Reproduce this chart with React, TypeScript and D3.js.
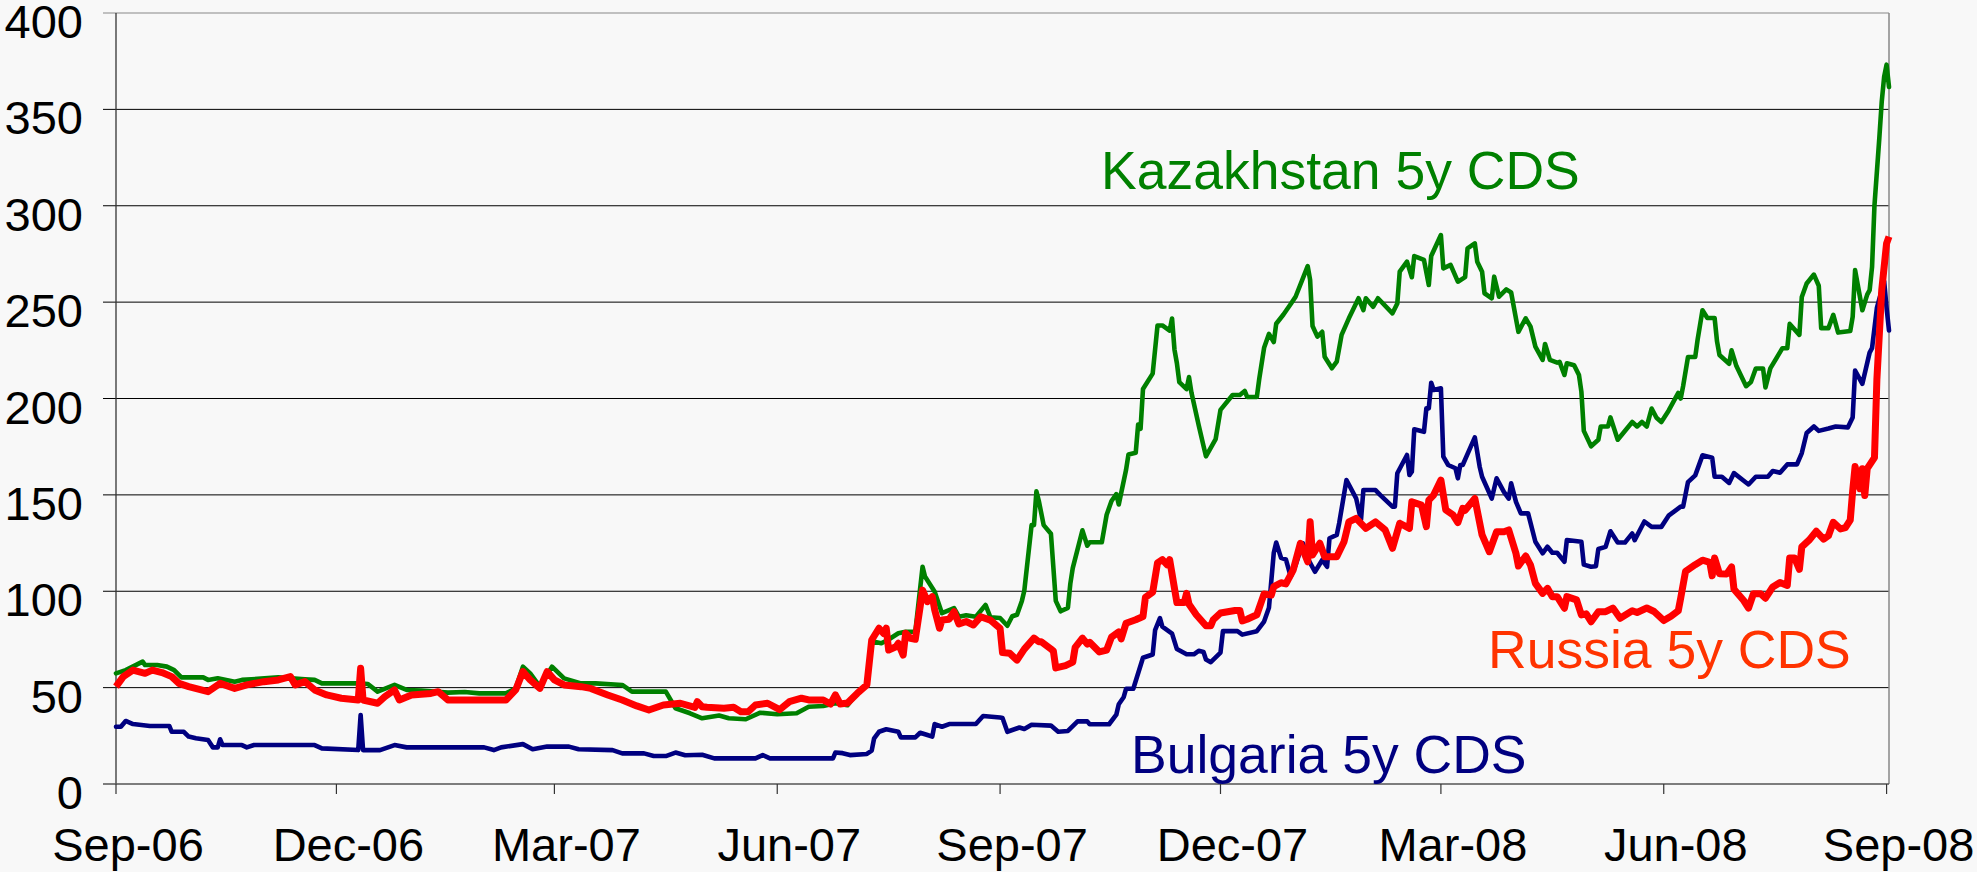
import React from "react";
import * as d3 from "d3";

type Pt = [string, number];

const kazakhstanCDS: Pt[] = [
  ["2006-09-01",57.4],["2006-09-05",59.1],["2006-09-12",63.5],["2006-09-13",61.7],["2006-09-18",61.7],
  ["2006-09-22",60.9],["2006-09-25",59.1],["2006-09-28",55.3],["2006-10-07",55.3],["2006-10-09",54.0],
  ["2006-10-13",54.9],["2006-10-20",53.1],["2006-10-23",54.0],["2006-11-07",55.3],["2006-11-18",54.3],
  ["2006-11-22",54.0],["2006-11-25",52.2],["2006-12-10",52.2],["2006-12-14",51.9],["2006-12-18",47.9],
  ["2006-12-25",51.4],["2006-12-30",48.8],["2007-01-05",48.5],["2007-01-16",47.4],["2007-01-23",47.7],
  ["2007-01-29",47.0],["2007-02-09",47.0],["2007-02-13",49.6],["2007-02-16",60.9],["2007-02-19",57.4],
  ["2007-02-23",50.5],["2007-02-28",60.9],["2007-03-05",54.8],["2007-03-12",52.2],["2007-03-18",52.2],
  ["2007-03-29",51.4],["2007-04-02",47.9],["2007-04-16",47.9],["2007-04-20",39.3],["2007-04-26",36.7],
  ["2007-05-01",34.1],["2007-05-08",35.5],["2007-05-12",34.1],["2007-05-19",33.6],["2007-05-25",37.0],
  ["2007-06-01",36.2],["2007-06-09",36.7],["2007-06-14",40.1],["2007-06-20",40.5],["2007-06-25",41.9],
  ["2007-06-30",40.9],["2007-07-04",47.0],["2007-07-08",51.4],["2007-07-10",74.0],["2007-07-14",73.0],
  ["2007-07-17",75.0],["2007-07-21",78.2],["2007-07-24",79.0],["2007-07-28",79.0],["2007-07-31",112.7],
  ["2007-08-01",107.6],["2007-08-05",99.8],["2007-08-08",88.6],["2007-08-13",91.2],["2007-08-15",86.8],
  ["2007-08-18",87.5],["2007-08-22",86.8],["2007-08-26",92.9],["2007-08-28",86.5],["2007-09-01",86.1],
  ["2007-09-04",82.1],["2007-09-06",87.0],["2007-09-08",87.8],["2007-09-10",95.0],["2007-09-11",100.3],
  ["2007-09-14",134.3],["2007-09-15",134.3],["2007-09-16",151.8],["2007-09-17",146.8],["2007-09-19",134.3],
  ["2007-09-22",129.8],["2007-09-24",95.0],["2007-09-26",89.6],["2007-09-29",91.4],["2007-09-30",103.9],
  ["2007-10-01",112.0],["2007-10-05",131.6],["2007-10-07",123.6],["2007-10-08",125.4],["2007-10-13",125.4],
  ["2007-10-15",139.7],["2007-10-17",146.8],["2007-10-19",150.4],["2007-10-20",145.0],["2007-10-23",162.9],
  ["2007-10-24",170.9],["2007-10-27",171.8],["2007-10-28",186.5],["2007-10-29",184.3],["2007-10-30",204.9],
  ["2007-11-03",212.9],["2007-11-05",237.9],["2007-11-07",237.9],["2007-11-10",235.2],["2007-11-11",241.5],
  ["2007-11-12",225.4],["2007-11-13",218.3],["2007-11-14",208.5],["2007-11-17",204.9],["2007-11-18",211.1],
  ["2007-11-19",203.1],["2007-11-22",186.1],["2007-11-24",175.4],["2007-11-25",170.0],["2007-11-29",178.9],
  ["2007-12-01",194.1],["2007-12-06",201.8],["2007-12-09",201.8],["2007-12-11",203.9],["2007-12-12",200.8],
  ["2007-12-16",200.8],["2007-12-17",210.2],["2007-12-19",226.3],["2007-12-21",233.5],["2007-12-23",229.3],
  ["2007-12-24",238.8],["2007-12-27",243.6],["2007-12-30",249.0],["2008-01-01",252.8],["2008-01-06",268.7],
  ["2008-01-07",261.5],["2008-01-08",237.6],["2008-01-10",232.1],["2008-01-12",234.6],["2008-01-13",221.7],
  ["2008-01-16",215.7],["2008-01-18",219.1],["2008-01-20",233.0],["2008-01-23",241.6],["2008-01-27",252.0],
  ["2008-01-29",245.9],["2008-01-30",252.0],["2008-02-02",247.6],["2008-02-04",252.0],["2008-02-10",244.2],
  ["2008-02-12",249.3],["2008-02-13",265.8],["2008-02-16",271.0],["2008-02-18",262.9],["2008-02-19",273.9],
  ["2008-02-23",271.9],["2008-02-25",258.9],["2008-02-26",273.9],["2008-03-01",284.8],["2008-03-02",267.5],
  ["2008-03-05",269.3],["2008-03-08",260.6],["2008-03-11",263.0],["2008-03-12",277.9],["2008-03-15",280.5],
  ["2008-03-16",271.0],["2008-03-18",265.8],["2008-03-19",254.6],["2008-03-22",252.0],["2008-03-23",263.2],
  ["2008-03-25",252.8],["2008-03-28",256.6],["2008-03-30",255.0],["2008-04-02",234.6],["2008-04-05",241.6],
  ["2008-04-07",237.3],["2008-04-09",226.9],["2008-04-12",220.0],["2008-04-13",228.3],["2008-04-15",220.0],
  ["2008-04-18",218.6],["2008-04-19",219.0],["2008-04-21",212.2],["2008-04-22",218.3],["2008-04-25",217.3],
  ["2008-04-27",212.2],["2008-04-28",203.5],["2008-04-29",183.2],["2008-05-02",175.2],["2008-05-05",178.6],
  ["2008-05-06",185.5],["2008-05-09",185.5],["2008-05-10",190.2],["2008-05-13",178.6],["2008-05-19",187.8],
  ["2008-05-21",185.5],["2008-05-23",187.8],["2008-05-25",185.5],["2008-05-27",194.8],["2008-05-29",190.0],
  ["2008-05-31",187.8],["2008-06-03",193.7],["2008-06-07",202.9],["2008-06-08",200.0],["2008-06-09",206.4],
  ["2008-06-11",221.5],["2008-06-14",221.5],["2008-06-15",230.7],["2008-06-17",245.8],["2008-06-19",241.8],
  ["2008-06-22",241.8],["2008-06-23",229.6],["2008-06-24",222.6],["2008-06-28",218.0],["2008-06-29",225.0],
  ["2008-07-01",216.8],["2008-07-05",206.4],["2008-07-07",208.6],["2008-07-09",215.6],["2008-07-12",215.6],
  ["2008-07-13",205.7],["2008-07-15",215.6],["2008-07-20",226.1],["2008-07-22",226.1],["2008-07-23",238.7],
  ["2008-07-27",233.0],["2008-07-28",252.7],["2008-07-30",259.7],["2008-08-02",264.3],["2008-08-04",258.5],
  ["2008-08-05",236.5],["2008-08-08",236.5],["2008-08-10",243.4],["2008-08-12",234.2],["2008-08-17",235.0],
  ["2008-08-18",242.3],["2008-08-19",266.6],["2008-08-22",245.8],["2008-08-24",253.9],["2008-08-25",256.2],
  ["2008-08-26",268.2],["2008-08-27",300.2],["2008-08-29",335.0],["2008-08-30",354.0],["2008-08-31",367.0],
  ["2008-09-01",373.2],["2008-09-02",361.6],
];

const russiaCDS: Pt[] = [
  ["2006-09-01",50.5],["2006-09-04",55.7],["2006-09-08",59.1],["2006-09-13",57.4],["2006-09-16",59.1],
  ["2006-09-20",57.8],["2006-09-24",55.7],["2006-09-27",52.2],["2006-10-01",50.5],["2006-10-09",47.9],
  ["2006-10-14",52.2],["2006-10-20",49.6],["2006-10-25",51.4],["2006-11-01",53.1],["2006-11-07",54.0],
  ["2006-11-12",55.7],["2006-11-14",51.4],["2006-11-18",53.1],["2006-11-22",48.8],["2006-11-27",46.2],
  ["2006-12-03",44.5],["2006-12-10",43.6],["2006-12-11",60.0],["2006-12-12",43.6],["2006-12-18",41.9],
  ["2006-12-21",45.3],["2006-12-25",48.8],["2006-12-27",43.6],["2007-01-01",46.2],["2007-01-09",47.0],
  ["2007-01-12",47.9],["2007-01-16",43.6],["2007-02-09",43.6],["2007-02-13",48.8],["2007-02-16",58.3],
  ["2007-02-19",54.0],["2007-02-23",49.6],["2007-02-26",58.3],["2007-03-01",54.0],["2007-03-05",51.4],
  ["2007-03-12",50.5],["2007-03-16",49.6],["2007-03-23",46.2],["2007-03-29",43.6],["2007-04-04",40.5],
  ["2007-04-09",38.4],["2007-04-15",41.0],["2007-04-22",41.9],["2007-04-28",39.7],["2007-04-29",42.7],
  ["2007-05-01",40.1],["2007-05-03",39.8],["2007-05-10",39.3],["2007-05-14",39.8],["2007-05-17",37.5],
  ["2007-05-20",37.5],["2007-05-23",41.0],["2007-05-28",41.9],["2007-06-02",38.6],["2007-06-06",42.7],
  ["2007-06-11",44.5],["2007-06-14",43.6],["2007-06-20",43.6],["2007-06-23",41.5],["2007-06-25",46.2],
  ["2007-06-27",41.5],["2007-06-30",42.0],["2007-07-04",47.0],["2007-07-08",51.4],["2007-07-10",74.7],
  ["2007-07-13",80.8],["2007-07-15",78.0],["2007-07-16",80.8],["2007-07-17",69.5],["2007-07-20",71.2],
  ["2007-07-21",73.0],["2007-07-23",66.9],["2007-07-24",78.2],["2007-07-26",75.6],["2007-07-28",75.1],
  ["2007-07-30",92.0],["2007-07-31",100.6],["2007-08-02",94.6],["2007-08-04",97.2],["2007-08-05",90.3],
  ["2007-08-07",80.8],["2007-08-08",85.1],["2007-08-11",85.5],["2007-08-13",89.4],["2007-08-15",83.0],
  ["2007-08-18",84.3],["2007-08-21",82.5],["2007-08-24",86.8],["2007-08-28",85.0],["2007-09-01",80.7],
  ["2007-09-02",68.2],["2007-09-05",67.8],["2007-09-08",64.3],["2007-09-11",70.0],["2007-09-15",75.7],
  ["2007-09-17",73.8],["2007-09-18",73.8],["2007-09-22",70.0],["2007-09-23",69.0],["2007-09-24",60.2],
  ["2007-09-28",61.4],["2007-10-01",63.2],["2007-10-02",70.9],["2007-10-05",75.7],["2007-10-07",72.6],
  ["2007-10-08",73.5],["2007-10-12",68.5],["2007-10-15",69.5],["2007-10-17",76.2],["2007-10-20",78.9],
  ["2007-10-21",75.3],["2007-10-23",83.4],["2007-10-27",85.2],["2007-10-30",86.9],["2007-10-31",96.8],
  ["2007-11-03",99.5],["2007-11-05",114.7],["2007-11-07",116.4],["2007-11-09",113.7],["2007-11-10",116.4],
  ["2007-11-13",94.1],["2007-11-16",94.1],["2007-11-17",98.9],["2007-11-18",93.2],["2007-11-21",87.8],
  ["2007-11-25",82.1],["2007-11-27",82.1],["2007-11-28",85.2],["2007-12-01",88.7],["2007-12-07",90.0],
  ["2007-12-09",90.0],["2007-12-10",84.6],["2007-12-12",85.5],["2007-12-16",87.8],["2007-12-19",98.6],
  ["2007-12-22",98.0],["2007-12-23",102.4],["2007-12-26",104.4],["2007-12-28",103.8],["2007-12-31",111.0],
  ["2008-01-03",124.9],["2008-01-06",115.3],["2008-01-07",136.0],["2008-01-08",118.8],["2008-01-11",124.9],
  ["2008-01-13",117.9],["2008-01-18",117.9],["2008-01-21",125.7],["2008-01-23",136.0],["2008-01-26",137.8],
  ["2008-01-30",132.6],["2008-02-03",136.0],["2008-02-07",131.8],["2008-02-10",122.3],["2008-02-13",135.3],
  ["2008-02-17",132.6],["2008-02-18",146.4],["2008-02-22",144.7],["2008-02-24",133.5],["2008-02-25",147.3],
  ["2008-02-27",149.9],["2008-03-01",157.7],["2008-03-03",142.2],["2008-03-06",139.6],["2008-03-08",135.6],
  ["2008-03-10",143.0],["2008-03-11",142.0],["2008-03-15",148.2],["2008-03-18",129.2],["2008-03-21",120.5],
  ["2008-03-24",130.9],["2008-03-27",130.9],["2008-03-29",131.8],["2008-04-01",119.6],["2008-04-02",113.1],
  ["2008-04-05",118.3],["2008-04-07",113.6],["2008-04-09",104.1],["2008-04-12",98.9],["2008-04-14",101.5],
  ["2008-04-16",97.2],["2008-04-18",97.2],["2008-04-21",91.2],["2008-04-22",97.2],["2008-04-26",95.5],
  ["2008-04-28",87.7],["2008-04-30",88.3],["2008-05-02",84.2],["2008-05-05",89.4],["2008-05-08",89.4],
  ["2008-05-11",91.3],["2008-05-14",86.0],["2008-05-19",89.9],["2008-05-21",89.0],["2008-05-25",91.3],
  ["2008-05-28",89.5],["2008-06-01",84.8],["2008-06-04",87.0],["2008-06-07",89.9],["2008-06-08",96.4],
  ["2008-06-10",110.3],["2008-06-14",113.8],["2008-06-17",116.1],["2008-06-20",115.0],["2008-06-21",108.0],
  ["2008-06-22",117.3],["2008-06-24",109.1],["2008-06-27",109.0],["2008-06-29",112.6],["2008-06-30",101.0],
  ["2008-07-04",95.2],["2008-07-06",91.3],["2008-07-08",98.7],["2008-07-11",98.7],["2008-07-13",96.4],
  ["2008-07-16",102.2],["2008-07-19",104.5],["2008-07-22",103.0],["2008-07-23",117.3],["2008-07-25",117.3],
  ["2008-07-27",111.4],["2008-07-28",123.0],["2008-07-31",126.5],["2008-08-03",131.1],["2008-08-06",127.0],
  ["2008-08-08",128.8],["2008-08-10",135.8],["2008-08-13",132.3],["2008-08-15",133.0],["2008-08-17",136.9],
  ["2008-08-18",152.0],["2008-08-19",164.7],["2008-08-21",153.2],["2008-08-22",163.6],["2008-08-23",149.7],
  ["2008-08-24",163.6],["2008-08-27",169.3],["2008-08-28",209.9],["2008-08-30",256.2],["2008-09-01",280.5],
  ["2008-09-02",284.0],
];

const bulgariaCDS: Pt[] = [
  ["2006-09-01",29.7],["2006-09-03",29.7],["2006-09-05",32.7],["2006-09-08",31.1],["2006-09-15",30.1],
  ["2006-09-23",30.1],["2006-09-24",27.1],["2006-09-29",27.1],["2006-10-01",24.6],["2006-10-04",23.7],
  ["2006-10-09",22.8],["2006-10-11",19.0],["2006-10-13",19.0],["2006-10-14",23.2],["2006-10-15",20.2],
  ["2006-10-23",20.2],["2006-10-25",19.0],["2006-10-28",20.2],["2006-11-22",20.2],["2006-11-25",18.5],
  ["2006-12-10",17.6],["2006-12-11",35.8],["2006-12-12",17.6],["2006-12-19",17.6],["2006-12-25",20.2],
  ["2006-12-30",19.0],["2007-01-31",19.0],["2007-02-04",17.6],["2007-02-07",19.0],["2007-02-16",20.7],
  ["2007-02-20",18.0],["2007-02-26",19.4],["2007-03-07",19.4],["2007-03-11",18.0],["2007-03-25",17.6],
  ["2007-03-29",15.9],["2007-04-07",15.9],["2007-04-11",14.5],["2007-04-16",14.5],["2007-04-20",16.3],
  ["2007-04-24",14.9],["2007-05-01",15.2],["2007-05-06",13.3],["2007-05-23",13.3],["2007-05-26",15.0],
  ["2007-05-29",13.3],["2007-06-24",13.3],["2007-06-25",16.3],["2007-06-28",16.0],["2007-07-01",15.0],
  ["2007-07-08",15.6],["2007-07-10",17.3],["2007-07-11",23.7],["2007-07-13",27.1],["2007-07-16",28.4],
  ["2007-07-21",27.1],["2007-07-22",24.2],["2007-07-28",24.2],["2007-07-30",26.6],["2007-08-02",25.4],
  ["2007-08-04",24.6],["2007-08-05",31.1],["2007-08-08",29.7],["2007-08-11",31.1],["2007-08-22",31.1],
  ["2007-08-25",35.3],["2007-09-01",34.5],["2007-09-02",34.2],["2007-09-04",27.1],["2007-09-09",29.3],
  ["2007-09-11",28.5],["2007-09-14",30.7],["2007-09-22",30.3],["2007-09-25",27.1],["2007-09-29",27.5],
  ["2007-10-03",32.5],["2007-10-07",32.5],["2007-10-08",31.0],["2007-10-16",31.0],["2007-10-19",36.0],
  ["2007-10-20",41.4],["2007-10-22",45.0],["2007-10-23",49.4],["2007-10-26",49.4],["2007-10-30",65.5],
  ["2007-11-03",67.2],["2007-11-04",79.8],["2007-11-06",86.0],["2007-11-07",81.6],["2007-11-11",78.0],
  ["2007-11-13",70.0],["2007-11-17",67.3],["2007-11-20",67.3],["2007-11-22",69.1],["2007-11-24",68.5],
  ["2007-11-25",64.6],["2007-11-27",63.2],["2007-12-01",68.2],["2007-12-02",79.3],["2007-12-08",79.3],
  ["2007-12-10",77.5],["2007-12-16",79.3],["2007-12-19",84.3],["2007-12-21",91.4],["2007-12-23",120.0],
  ["2007-12-24",125.3],["2007-12-26",117.3],["2007-12-28",116.5],["2007-12-30",107.6],["2008-01-01",113.6],
  ["2008-01-04",124.9],["2008-01-06",117.1],["2008-01-09",110.1],["2008-01-12",116.2],["2008-01-14",112.7],
  ["2008-01-15",127.5],["2008-01-18",129.2],["2008-01-19",135.3],["2008-01-22",157.7],["2008-01-26",148.2],
  ["2008-01-28",137.0],["2008-01-29",152.5],["2008-02-03",152.5],["2008-02-05",149.9],["2008-02-10",143.9],
  ["2008-02-11",143.9],["2008-02-12",161.2],["2008-02-16",170.7],["2008-02-17",160.3],["2008-02-18",162.0],
  ["2008-02-19",184.0],["2008-02-23",182.7],["2008-02-24",194.9],["2008-02-25",194.9],["2008-02-26",208.2],
  ["2008-02-27",204.4],["2008-03-01",205.3],["2008-03-02",169.8],["2008-03-04",165.5],["2008-03-07",163.8],
  ["2008-03-08",158.6],["2008-03-09",165.5],["2008-03-10",165.5],["2008-03-15",179.8],["2008-03-17",164.6],
  ["2008-03-18",159.4],["2008-03-22",148.1],["2008-03-24",158.6],["2008-03-27",151.6],["2008-03-29",148.1],
  ["2008-03-30",156.0],["2008-04-01",146.4],["2008-04-03",140.4],["2008-04-06",140.4],["2008-04-09",125.7],
  ["2008-04-12",119.7],["2008-04-14",123.1],["2008-04-16",120.0],["2008-04-18",120.0],["2008-04-21",115.3],
  ["2008-04-22",126.6],["2008-04-28",125.7],["2008-04-29",113.8],["2008-05-02",112.7],["2008-05-04",113.0],
  ["2008-05-05",121.9],["2008-05-08",123.0],["2008-05-10",131.1],["2008-05-13",125.3],["2008-05-16",125.3],
  ["2008-05-19",130.0],["2008-05-20",126.5],["2008-05-24",136.2],["2008-05-27",133.4],["2008-05-31",133.4],
  ["2008-06-03",139.2],["2008-06-08",143.9],["2008-06-09",143.9],["2008-06-11",156.6],["2008-06-14",160.1],
  ["2008-06-17",170.5],["2008-06-21",169.3],["2008-06-22",159.4],["2008-06-25",159.4],["2008-06-28",156.2],
  ["2008-06-30",161.3],["2008-07-06",155.4],["2008-07-09",159.4],["2008-07-14",159.4],["2008-07-16",162.4],
  ["2008-07-19",161.5],["2008-07-22",165.8],["2008-07-26",165.8],["2008-07-28",171.7],["2008-07-30",182.1],
  ["2008-08-02",185.5],["2008-08-04",183.2],["2008-08-08",184.4],["2008-08-11",185.5],["2008-08-16",185.0],
  ["2008-08-18",190.2],["2008-08-19",214.5],["2008-08-22",207.6],["2008-08-25",223.8],["2008-08-26",226.1],
  ["2008-08-28",247.0],["2008-08-31",260.8],["2008-09-01",247.0],["2008-09-02",235.3],
];

const xTickDates = [
  "2006-09-01","2006-12-01","2007-03-01","2007-06-01","2007-09-01",
  "2007-12-01","2008-03-01","2008-06-01","2008-09-01",
];
const yTickValues = [0, 50, 100, 150, 200, 250, 300, 350, 400];
const xDomainDates = ["2006-09-01", "2008-09-02"];
const seriesNames = ["Kazakhstan 5y CDS", "Russia 5y CDS", "Bulgaria 5y CDS"];

const FONT = "'Liberation Sans', Arial, Helvetica, sans-serif";

export default function App() {
  const W = 1977, H = 872;
  const left = 116, right = 1889, top = 13, bottom = 784;
  const parse = d3.timeParse("%Y-%m-%d");
  const fmt = d3.timeFormat("%b-%y");
  const x = d3.scaleTime().domain(xDomainDates.map((d) => parse(d) as Date)).range([left, right]);
  const y = d3.scaleLinear().domain([0, 400]).range([bottom, top]);
  const line = d3
    .line<Pt>()
    .x((d) => x(parse(d[0]) as Date))
    .y((d) => y(d[1]));

  return (
    <div style={{ position: "absolute", left: 0, top: 0, width: W, height: H }}>
      <svg width={W} height={H} style={{ display: "block" }}>
        <rect x={0} y={0} width={W} height={H} fill="#f8f8f8" />
        {yTickValues.map((v) =>
          v === 0 ? null : (
            <line
              key={"g" + v}
              x1={103}
              x2={right}
              y1={y(v)}
              y2={y(v)}
              stroke={v === 400 ? "#888" : "#000"}
              strokeWidth={1}
            />
          )
        )}
        <line x1={right} x2={right} y1={top} y2={bottom} stroke="#888" strokeWidth={1.5} />
        <line x1={left} x2={left} y1={top} y2={bottom} stroke="#333" strokeWidth={1.3} />
        <line x1={103} x2={right} y1={bottom} y2={bottom} stroke="#555" strokeWidth={1.5} />
        {xTickDates.map((d) => (
          <line
            key={"xt" + d}
            x1={x(parse(d) as Date)}
            x2={x(parse(d) as Date)}
            y1={bottom}
            y2={bottom + 10}
            stroke="#333"
            strokeWidth={1.2}
          />
        ))}
        {yTickValues.map((v) => (
          <text
            key={"yl" + v}
            x={83}
            y={y(v) + 25}
            textAnchor="end"
            fontFamily={FONT}
            fontSize={47}
            fill="#000"
          >
            {v}
          </text>
        ))}
        {xTickDates.map((d) => (
          <text
            key={"xl" + d}
            x={x(parse(d) as Date) + 12}
            y={861}
            textAnchor="middle"
            fontFamily={FONT}
            fontSize={47}
            fill="#000"
          >
            {fmt(parse(d) as Date)}
          </text>
        ))}
        <path d={line(kazakhstanCDS) || ""} fill="none" stroke="#008000" strokeWidth={4.6} strokeLinejoin="round" strokeLinecap="round" />
        <path d={line(bulgariaCDS) || ""} fill="none" stroke="#000080" strokeWidth={4.6} strokeLinejoin="round" strokeLinecap="round" />
        <path d={line(russiaCDS) || ""} fill="none" stroke="#ff0000" strokeWidth={7} strokeLinejoin="round" />
        <text x={1101} y={189} fontFamily={FONT} fontSize={53.5} fill="#008000">
          {seriesNames[0]}
        </text>
        <text x={1488} y={668} fontFamily={FONT} fontSize={53.5} fill="#ff3300">
          {seriesNames[1]}
        </text>
        <text x={1131} y={773} fontFamily={FONT} fontSize={53.5} fill="#000080">
          {seriesNames[2]}
        </text>
      </svg>
    </div>
  );
}
